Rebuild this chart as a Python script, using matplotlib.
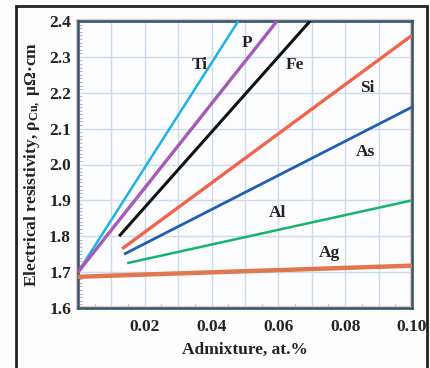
import matplotlib
matplotlib.use("Agg")
import matplotlib.pyplot as plt
from matplotlib.patches import Rectangle
from matplotlib.ticker import MultipleLocator, FuncFormatter

# resistivity of Cu vs admixture content, straight segments
elements = ["Ti", "P", "Fe", "Si", "As", "Al", "Ag"]
x_start = [0.0, 0.0, 0.0123, 0.0132, 0.0138, 0.0147, 0.0]
y_start = [1.70, 1.70, 1.80, 1.765, 1.75, 1.725, 1.687]
x_end = [0.048, 0.0596, 0.0695, 0.10, 0.10, 0.10, 0.10]
y_end = [2.40, 2.40, 2.40, 2.36, 2.16, 1.90, 1.718]
label_x = [0.0365, 0.0506, 0.065, 0.0865, 0.086, 0.0596, 0.0754]
label_y = [2.277, 2.338, 2.277, 2.213, 2.035, 1.865, 1.753]
colors = ["#1db3e8", "#a65ab8", "#111111", "#f0644a", "#1f5eb3", "#16b36c", "#e0774c"]
widths = [1.8, 2.4, 2.2, 2.4, 2.0, 1.8, 3.2]

FS = 12.5

plt.rcParams["font.family"] = ["Liberation Serif", "DejaVu Serif"]
plt.rcParams["font.weight"] = "bold"
plt.rcParams["mathtext.fontset"] = "custom"
plt.rcParams["mathtext.rm"] = "Liberation Serif:bold"
plt.rcParams["mathtext.it"] = "Liberation Serif:bold"
plt.rcParams["mathtext.bf"] = "Liberation Serif:bold"

fig = plt.figure(figsize=(4.31, 3.68), dpi=100, facecolor="#fdfdfd")
ax = fig.add_axes([78 / 431, 1 - 308 / 368, 334 / 431, 287 / 368])
ax.set_facecolor("#fdfdff")

for el, x0, y0, x1, y1, lx, ly, c, w in zip(elements, x_start, y_start, x_end, y_end,
                                           label_x, label_y, colors, widths):
    ax.plot([x0, x1], [y0, y1], color=c, lw=w, solid_capstyle="butt", zorder=3)
    ax.text(lx, ly, el, fontsize=FS, fontweight="bold", color="#222222",
            ha="center", va="center", zorder=4)

ax.set_xlim(0, 0.10)
ax.set_ylim(1.6, 2.4)

ax.xaxis.set_major_locator(MultipleLocator(0.01))
ax.xaxis.set_minor_locator(MultipleLocator(0.005))
ax.xaxis.set_major_formatter(FuncFormatter(
    lambda v, p: f"{v:.2f}" if v > 0.001 and round(v * 100) % 2 == 0 else ""))
ax.yaxis.set_major_locator(MultipleLocator(0.1))
ax.yaxis.set_minor_locator(MultipleLocator(0.01))
ax.yaxis.set_major_formatter(FuncFormatter(lambda v, p: f"{v:.1f}"))

ax.grid(True, which="major", color="#c9dbee", lw=1.0, zorder=0)
ax.set_axisbelow(True)
ax.tick_params(which="major", length=0, labelsize=FS, labelcolor="#222222")
ax.tick_params(axis="x", which="major", pad=8)
ax.tick_params(axis="y", which="major", pad=5)
ax.tick_params(which="minor", direction="in", length=3, width=0.8, color="#9fbad6")

for s in ax.spines.values():
    s.set_color("#275a74")
    s.set_linewidth(1.8)
ax.add_patch(Rectangle((0, 0), 1, 1, transform=ax.transAxes, fill=False,
                       edgecolor="#f4c0b8", lw=3.0, clip_on=False, zorder=2.4))

ax.set_xlabel("Admixture, at.%", fontsize=FS, fontweight="bold", color="#222222", labelpad=5)
ax.set_ylabel("Electrical resistivity, ρ$_{\\rm Cu,}$ μΩ·cm", fontsize=FS,
              fontweight="bold", color="#222222", labelpad=5)

# outer frame, open at the bottom edge of the image
fig.patches.append(Rectangle((16.5 / 431, -0.05), 411 / 431, 1.05 - 5.5 / 368,
                             transform=fig.transFigure, fill=False,
                             edgecolor="#222222", lw=2.0))

fig.savefig("out.png", dpi=100, facecolor=fig.get_facecolor())
